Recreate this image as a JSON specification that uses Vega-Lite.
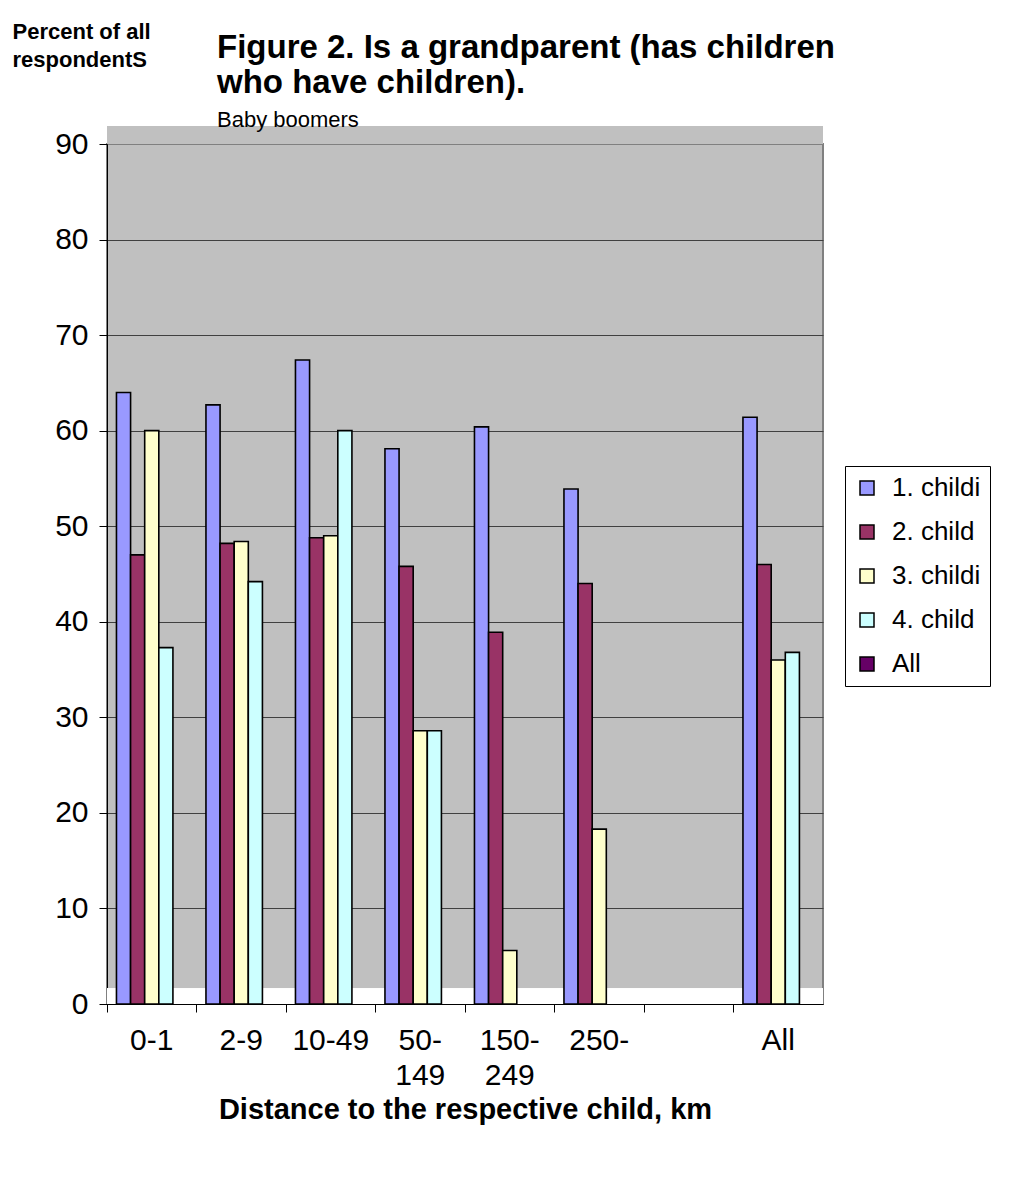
{
  "$schema": "https://vega.github.io/schema/vega-lite/v6.json",
  "autosize": {"type": "none"},
  "width": 716,
  "height": 860,
  "padding": {"left": 107, "top": 144, "right": 210, "bottom": 176},
  "background": "white",
  "config": {
    "font": "Liberation Sans",
    "view": {"fill": "#C0C0C0", "stroke": "#808080", "strokeWidth": 2}
  },
  "title": {
    "text": ["Figure 2. Is a grandparent (has children", "who have children)."],
    "subtitle": "Baby boomers",
    "anchor": "start",
    "frame": "group",
    "dx": 110,
    "offset": -111,
    "fontSize": 33,
    "fontWeight": "bold",
    "lineHeight": 35,
    "color": "black",
    "subtitleFontSize": 22,
    "subtitleColor": "black",
    "subtitlePadding": 10,
    "subtitleFont": "Liberation Sans"
  },
  "data": {
    "values": [
      {"distance": "0-1", "child": "1. childi", "percent": 64.0},
      {"distance": "0-1", "child": "2. child", "percent": 47.0},
      {"distance": "0-1", "child": "3. childi", "percent": 60.0},
      {"distance": "0-1", "child": "4. child", "percent": 37.3},
      {"distance": "2-9", "child": "1. childi", "percent": 62.7},
      {"distance": "2-9", "child": "2. child", "percent": 48.2},
      {"distance": "2-9", "child": "3. childi", "percent": 48.4},
      {"distance": "2-9", "child": "4. child", "percent": 44.2},
      {"distance": "10-49", "child": "1. childi", "percent": 67.4},
      {"distance": "10-49", "child": "2. child", "percent": 48.8},
      {"distance": "10-49", "child": "3. childi", "percent": 49.0},
      {"distance": "10-49", "child": "4. child", "percent": 60.0},
      {"distance": "50-149", "child": "1. childi", "percent": 58.1},
      {"distance": "50-149", "child": "2. child", "percent": 45.8},
      {"distance": "50-149", "child": "3. childi", "percent": 28.6},
      {"distance": "50-149", "child": "4. child", "percent": 28.6},
      {"distance": "150-249", "child": "1. childi", "percent": 60.4},
      {"distance": "150-249", "child": "2. child", "percent": 38.9},
      {"distance": "150-249", "child": "3. childi", "percent": 5.6},
      {"distance": "250-", "child": "1. childi", "percent": 53.9},
      {"distance": "250-", "child": "2. child", "percent": 44.0},
      {"distance": "250-", "child": "3. childi", "percent": 18.3},
      {"distance": "All", "child": "1. childi", "percent": 61.4},
      {"distance": "All", "child": "2. child", "percent": 46.0},
      {"distance": "All", "child": "3. childi", "percent": 36.0},
      {"distance": "All", "child": "4. child", "percent": 36.8}
    ]
  },
  "encoding": {
    "y": {
      "type": "quantitative",
      "scale": {"domain": [0, 90], "nice": false, "zero": true},
      "axis": {
        "title": ["Percent of all", "respondentS"],
        "titleAngle": 0,
        "titleAlign": "left",
        "titleBaseline": "alphabetic",
        "titleX": -95,
        "titleY": -106,
        "titleFontSize": 22,
        "titleFontWeight": "bold",
        "titleLineHeight": 28,
        "titleColor": "black",
        "values": [0, 10, 20, 30, 40, 50, 60, 70, 80, 90],
        "labelFontSize": 30,
        "labelColor": "black",
        "labelPadding": 11,
        "tickSize": 8,
        "tickColor": "black",
        "domainColor": "black",
        "grid": true,
        "gridColor": {"condition": {"test": "datum.value == 90", "value": "#808080"}, "value": "#404040"},
        "gridWidth": 1
      }
    }
  },
  "layer": [
    {
      "mark": {"type": "rect", "color": "white"},
      "encoding": {"y": {"datum": 0}, "y2": {"datum": 1.6}}
    },
    {
      "mark": {"type": "rect", "color": "#C0C0C0", "clip": false},
      "encoding": {"y": {"datum": 90}, "y2": {"datum": 91.8}}
    },
    {
      "mark": {"type": "bar", "stroke": "black", "strokeWidth": 1.6},
      "encoding": {
        "x": {
          "field": "distance",
          "type": "nominal",
          "sort": null,
          "scale": {"domain": ["0-1", "2-9", "10-49", "50-149", "150-249", "250-", " ", "All"], "paddingInner": 0, "paddingOuter": 0},
          "axis": {
            "title": "Distance to the respective child, km",
            "titleFontSize": 29,
            "titleFontWeight": "bold",
            "titleColor": "black",
            "titleBaseline": "alphabetic",
            "titleY": 114,
            "labelAngle": 0,
            "labelFontSize": 30,
            "labelColor": "black",
            "labelPadding": 13,
            "labelLineHeight": 35,
            "labelExpr": "datum.label == '50-149' ? ['50-', '149'] : datum.label == '150-249' ? ['150-', '249'] : datum.label",
            "bandPosition": 0,
            "tickSize": 8,
            "tickColor": "black",
            "domainColor": "black",
            "zindex": 1
          }
        },
        "xOffset": {
          "field": "child",
          "type": "nominal",
          "scale": {"domain": ["1. childi", "2. child", "3. childi", "4. child", "All"], "paddingInner": 0, "paddingOuter": 0.67}
        },
        "y": {"field": "percent", "type": "quantitative"},
        "color": {
          "field": "child",
          "type": "nominal",
          "scale": {
            "domain": ["1. childi", "2. child", "3. childi", "4. child", "All"],
            "range": ["#9999FF", "#993366", "#FFFFCC", "#CCFFFF", "#660066"]
          },
          "legend": {
            "title": null,
            "orient": "none",
            "legendX": 738,
            "legendY": 322,
            "padding": 9,
            "fillColor": "white",
            "strokeColor": "black",
            "symbolType": "square",
            "symbolSize": 196,
            "symbolStrokeColor": "black",
            "symbolStrokeWidth": 1.5,
            "symbolOpacity": 1,
            "labelFontSize": 26,
            "labelColor": "black",
            "labelOffset": 12,
            "rowPadding": 18
          }
        }
      }
    }
  ]
}
